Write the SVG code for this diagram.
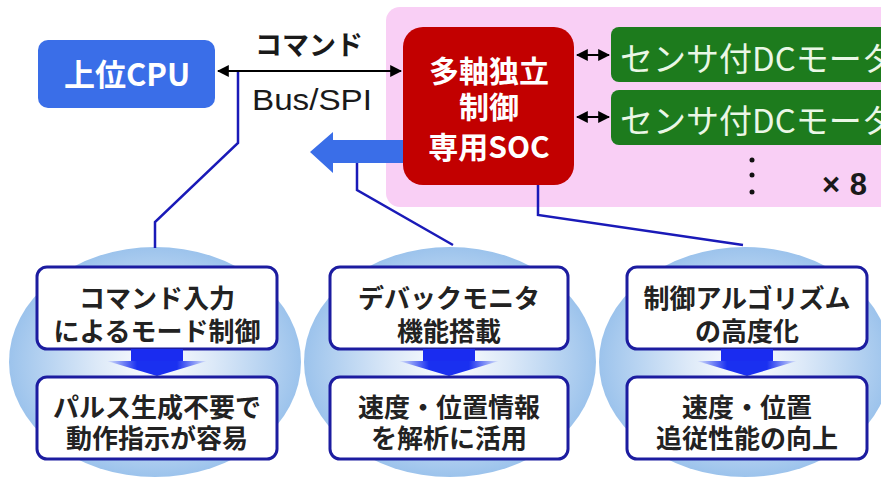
<svg xmlns="http://www.w3.org/2000/svg" width="881" height="482" viewBox="0 0 881 482">
<style>
.jp{font-family:"Noto Sans CJK JP","Noto Sans",sans-serif}
.b{font-weight:bold}
.wt{fill:#ffffff}
.dk{fill:#1a1a1a}
.card{fill:#ffffff;stroke:#1c1ca0;stroke-width:3}
.link{fill:none;stroke:#1a1ab8;stroke-width:2.5}
.blk{stroke:#000;stroke-width:2;fill:none}
.green{fill:#1d7b1d}
.gtxt{fill:#eaf7e6;font-size:33px}
.ctxt{font-size:26px;text-anchor:middle;fill:#222}
</style>
<defs>
<radialGradient id="glow" cx="0.5" cy="0.5" r="0.5">
<stop offset="0" stop-color="#ffffff"/>
<stop offset="0.4" stop-color="#dce9f8"/>
<stop offset="1" stop-color="#9cc3ec"/>
</radialGradient>
<linearGradient id="darr" x1="0" y1="0" x2="1" y2="0">
<stop offset="0" stop-color="#dbe6fb"/>
<stop offset="0.3" stop-color="#1a30f0"/>
<stop offset="0.7" stop-color="#1a30f0"/>
<stop offset="1" stop-color="#dbe6fb"/>
</linearGradient>
<marker id="ah" viewBox="0 0 10 10" refX="9" refY="5" markerWidth="6" markerHeight="6" orient="auto-start-reverse" markerUnits="strokeWidth">
<path d="M0,0 L10,5 L0,10 Z" fill="#000"/>
</marker>
<g id="downarrow">
<rect x="-26" y="0" width="52" height="12" fill="#1a2cf0"/>
<polygon points="-50,12 50,12 0,27" fill="url(#darr)"/>
</g>
</defs>

<rect width="881" height="482" fill="#ffffff"/>

<g id="panel">
<rect x="386" y="7" width="530" height="200" rx="14" fill="#f9cff5"/>
</g>

<g id="bg-ellipses">
<ellipse cx="155" cy="362" rx="146" ry="115" fill="url(#glow)"/>
<ellipse cx="450" cy="362" rx="146" ry="115" fill="url(#glow)"/>
<ellipse cx="745" cy="362" rx="146" ry="115" fill="url(#glow)"/>
</g>

<g id="connectors">
<line class="blk" x1="218" y1="71" x2="401" y2="71" marker-start="url(#ah)" marker-end="url(#ah)"/>
<line class="blk" x1="577" y1="55" x2="609" y2="55" marker-start="url(#ah)" marker-end="url(#ah)"/>
<line class="blk" x1="577" y1="117" x2="609" y2="117" marker-start="url(#ah)" marker-end="url(#ah)"/>
<polygon points="403,140 333,140 333,132 310,152 333,173 333,163 403,163" fill="#3a6ee8"/>
<polyline class="link" points="238,72 238,143 155,222 155,248"/>
<polyline class="link" points="357,163 357,190 453,245"/>
<polyline class="link" points="538,185 538,215 743,245"/>
</g>

<g id="label-command">
<text class="jp b dk" x="309" y="55" font-size="27" text-anchor="middle">コマンド</text>
<text x="312" y="110" font-family="Liberation Sans, Arial, sans-serif" font-size="30" text-anchor="middle" fill="#1a1a1a" textLength="120" lengthAdjust="spacingAndGlyphs">Bus/SPI</text>
</g>

<g id="cpu">
<rect x="38" y="40" width="177" height="68" rx="10" fill="#3a6ee8"/>
<text class="jp b wt" x="127" y="86" font-size="31" text-anchor="middle">上位CPU</text>
</g>

<g id="soc">
<rect x="403" y="27" width="171" height="158" rx="20" fill="#c20000"/>
<text class="jp b wt" x="489" y="82" font-size="30" text-anchor="middle">多軸独立</text>
<text class="jp b wt" x="489" y="118" font-size="30" text-anchor="middle">制御</text>
<text class="jp b wt" x="489" y="158" font-size="30" text-anchor="middle">専用SOC</text>
</g>

<g id="motor1">
<rect class="green" x="611" y="27" width="300" height="55" rx="8"/>
<text class="jp gtxt" x="620" y="71">センサ付DCモータ</text>
</g>
<g id="motor2">
<rect class="green" x="611" y="90" width="300" height="55" rx="8"/>
<text class="jp gtxt" x="620" y="133">センサ付DCモータ</text>
</g>
<g id="more">
<circle cx="752" cy="160" r="2.5" fill="#111"/>
<circle cx="752" cy="175" r="2.5" fill="#111"/>
<circle cx="752" cy="192" r="2.5" fill="#111"/>
<text x="822" y="195" font-family="Liberation Sans, Arial, sans-serif" font-weight="bold" font-size="31" fill="#1a1a1a" textLength="45" lengthAdjust="spacing">×8</text>
</g>

<g id="feature1">
<rect class="card" x="37" y="267" width="240" height="82" rx="10"/>
<text class="jp b ctxt" x="157" y="308">コマンド入力</text>
<text class="jp b ctxt" x="157" y="341">によるモード制御</text>
<use href="#downarrow" x="157" y="349"/>
<rect class="card" x="37" y="377" width="240" height="82" rx="10"/>
<text class="jp b ctxt" x="157" y="417">パルス生成不要で</text>
<text class="jp b ctxt" x="157" y="448">動作指示が容易</text>
</g>

<g id="feature2">
<rect class="card" x="330" y="267" width="238" height="82" rx="10"/>
<text class="jp b ctxt" x="449" y="308">デバックモニタ</text>
<text class="jp b ctxt" x="449" y="341">機能搭載</text>
<use href="#downarrow" x="449" y="349"/>
<rect class="card" x="330" y="377" width="238" height="82" rx="10"/>
<text class="jp b ctxt" x="449" y="417">速度・位置情報</text>
<text class="jp b ctxt" x="449" y="448">を解析に活用</text>
</g>

<g id="feature3">
<rect class="card" x="627" y="267" width="240" height="82" rx="10"/>
<text class="jp b ctxt" x="747" y="308">制御アルゴリズム</text>
<text class="jp b ctxt" x="747" y="341">の高度化</text>
<use href="#downarrow" x="747" y="349"/>
<rect class="card" x="627" y="377" width="240" height="82" rx="10"/>
<text class="jp b ctxt" x="747" y="417">速度・位置</text>
<text class="jp b ctxt" x="747" y="448">追従性能の向上</text>
</g>
</svg>
